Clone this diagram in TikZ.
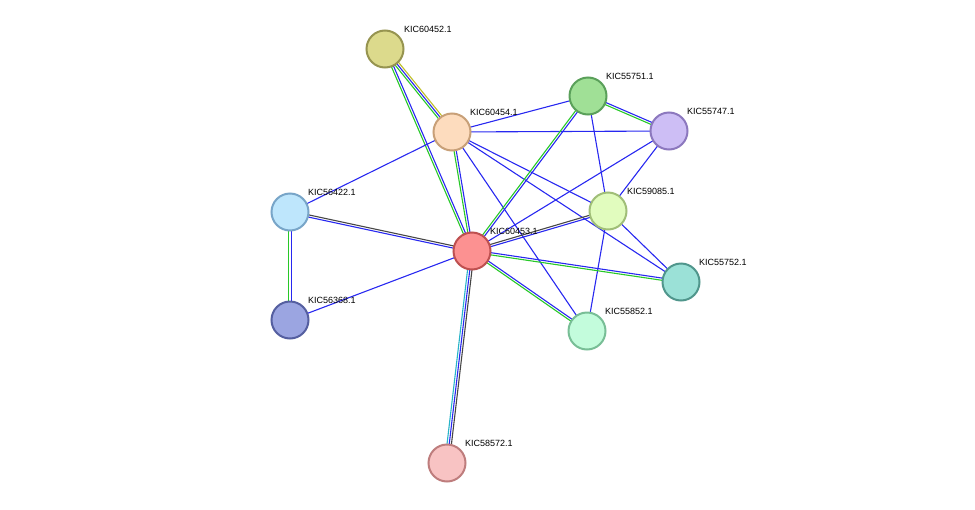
\documentclass[tikz,border=0pt]{standalone}
\usepackage{fontspec}
\setmainfont{Liberation Sans}
\usetikzlibrary{calc}
\newcommand{\edg}[4]{\draw[#4,line width=1.1pt] ($(#1)!#3!90:(#2)$) -- ($(#2)!#3!-90:(#1)$);}
\begin{document}
\begin{tikzpicture}[x=1pt,y=-1pt,
  prot/.style={circle,draw,line width=2pt,minimum size=37pt,inner sep=0pt},
  lab/.style={font=\fontsize{9}{10}\selectfont,anchor=south west,inner sep=0pt}]
\useasboundingbox (0,0) rectangle (975,509);
\coordinate (a) at (385,49);
\coordinate (b) at (588,96);
\coordinate (c) at (669,131);
\coordinate (d) at (452,132);
\coordinate (e) at (290,212);
\coordinate (f) at (608,211);
\coordinate (g) at (472,251);
\coordinate (h) at (681,282);
\coordinate (i) at (290,320);
\coordinate (j) at (587,331);
\coordinate (k) at (447,463);
\definecolor{eb}{RGB}{40,40,240}
\definecolor{eg}{RGB}{40,200,40}
\definecolor{ek}{RGB}{70,70,70}
\definecolor{ec}{RGB}{40,180,200}
\definecolor{ey}{RGB}{190,190,40}
\edg{a}{d}{-2.2pt}{eg}\edg{a}{d}{0pt}{eb}\edg{a}{d}{2.2pt}{ey}
\edg{a}{g}{-1.1pt}{eg}\edg{a}{g}{1.1pt}{eb}
\edg{d}{g}{-1.1pt}{eg}\edg{d}{g}{1.1pt}{eb}
\edg{d}{b}{0pt}{eb}\edg{d}{c}{0pt}{eb}\edg{d}{e}{0pt}{eb}\edg{d}{f}{0pt}{eb}
\edg{d}{h}{0pt}{eb}\edg{d}{j}{0pt}{eb}
\edg{b}{c}{-1.1pt}{eg}\edg{b}{c}{1.1pt}{eb}
\edg{b}{g}{-1.1pt}{eg}\edg{b}{g}{1.1pt}{eb}
\edg{b}{f}{0pt}{eb}\edg{c}{g}{0pt}{eb}\edg{c}{f}{0pt}{eb}
\edg{f}{g}{-1.1pt}{ek}\edg{f}{g}{1.1pt}{eb}
\edg{f}{h}{0pt}{eb}\edg{f}{j}{0pt}{eb}
\edg{g}{h}{-1.1pt}{eg}\edg{g}{h}{1.1pt}{eb}
\edg{g}{j}{-1.1pt}{eg}\edg{g}{j}{1.1pt}{eb}
\edg{g}{e}{-1.1pt}{ek}\edg{g}{e}{1.1pt}{eb}
\edg{g}{i}{0pt}{eb}
\edg{e}{i}{-1.1pt}{eg}\edg{e}{i}{1.1pt}{eb}
\edg{g}{k}{-2.2pt}{ec}\edg{g}{k}{0pt}{eb}\edg{g}{k}{2.2pt}{ek}
\node[prot,fill={rgb,255:red,220;green,218;blue,140},draw={rgb,255:red,150;green,148;blue,80}] (na) at (a) {};
\node[prot,fill={rgb,255:red,160;green,224;blue,150},draw={rgb,255:red,90;green,160;blue,90}] (nb) at (b) {};
\node[prot,fill={rgb,255:red,205;green,190;blue,245},draw={rgb,255:red,140;green,120;blue,190}] (nc) at (c) {};
\node[prot,fill={rgb,255:red,253;green,220;blue,190},draw={rgb,255:red,200;green,160;blue,120}] (nd) at (d) {};
\node[prot,fill={rgb,255:red,190;green,230;blue,252},draw={rgb,255:red,120;green,165;blue,200}] (ne) at (e) {};
\node[prot,fill={rgb,255:red,225;green,252;blue,190},draw={rgb,255:red,160;green,190;blue,120}] (nf) at (f) {};
\node[prot,fill={rgb,255:red,252;green,145;blue,145},draw={rgb,255:red,190;green,80;blue,80}] (ng) at (g) {};
\node[prot,fill={rgb,255:red,155;green,225;blue,215},draw={rgb,255:red,80;green,150;blue,140}] (nh) at (h) {};
\node[prot,fill={rgb,255:red,155;green,165;blue,225},draw={rgb,255:red,85;green,95;blue,160}] (ni) at (i) {};
\node[prot,fill={rgb,255:red,195;green,252;blue,220},draw={rgb,255:red,120;green,190;blue,150}] (nj) at (j) {};
\node[prot,fill={rgb,255:red,248;green,195;blue,195},draw={rgb,255:red,190;green,125;blue,125}] (nk) at (k) {};
\node[lab] at ($(a)+(19,-16)$) {KIC60452.1};
\node[lab] at ($(b)+(18,-16)$) {KIC55751.1};
\node[lab] at ($(c)+(18,-16)$) {KIC55747.1};
\node[lab] at ($(d)+(18,-16)$) {KIC60454.1};
\node[lab] at ($(e)+(18,-16)$) {KIC56422.1};
\node[lab] at ($(f)+(19,-16)$) {KIC59085.1};
\node[lab] at ($(g)+(18,-16)$) {KIC60453.1};
\node[lab] at ($(h)+(18,-16)$) {KIC55752.1};
\node[lab] at ($(i)+(18,-16)$) {KIC56368.1};
\node[lab] at ($(j)+(18,-16)$) {KIC55852.1};
\node[lab] at ($(k)+(18,-16)$) {KIC58572.1};
\end{tikzpicture}
\end{document}
